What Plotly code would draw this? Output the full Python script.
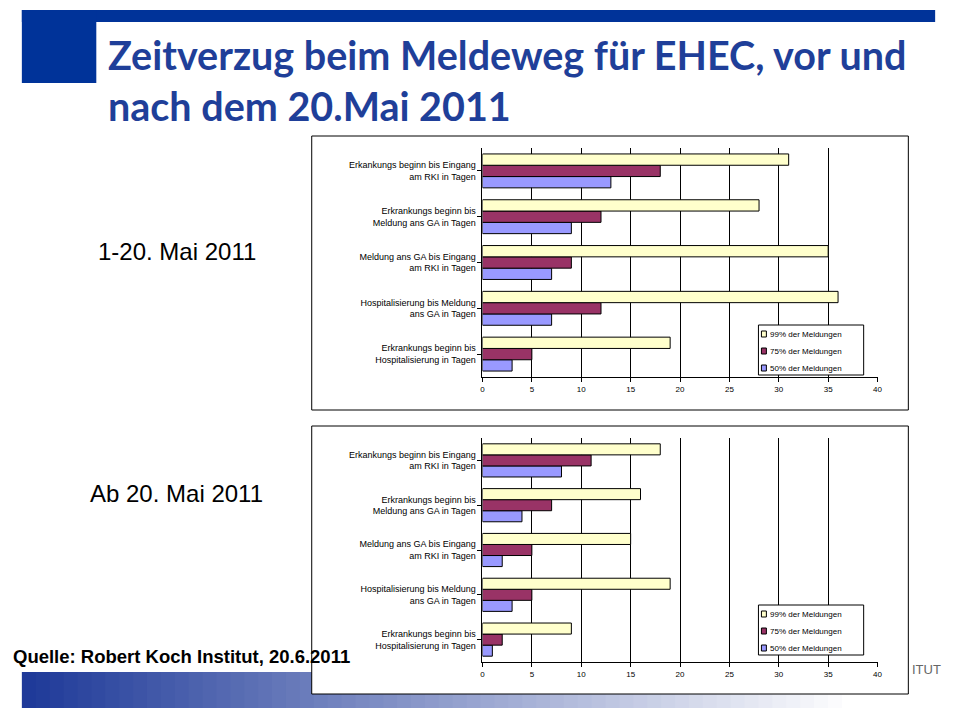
import plotly.graph_objects as go

categories = ["Erkankungs beginn bis Eingang<br>am RKI in Tagen",
              "Erkrankungs beginn bis<br>Meldung ans GA in Tagen",
              "Meldung ans GA bis Eingang<br>am RKI in Tagen",
              "Hospitalisierung bis Meldung<br>ans GA in Tagen",
              "Erkrankungs beginn bis<br>Hospitalisierung in Tagen"]
series_names = ["99% der Meldungen", "75% der Meldungen", "50% der Meldungen"]
series_colors = ["#FFFFCC", "#993366", "#9999FF"]
before_99 = [31, 28, 35, 36, 19]
before_75 = [18, 12, 9, 12, 5]
before_50 = [13, 9, 7, 7, 3]
after_99 = [18, 16, 15, 19, 9]
after_75 = [11, 7, 5, 5, 2]
after_50 = [8, 4, 2, 3, 1]
x_ticks = [0, 5, 10, 15, 20, 25, 30, 35, 40]

W, H = 960, 720
def px(x): return x / W
def py(y): return 1 - y / H

fig = go.Figure()
panels = [([before_99, before_75, before_50], "x", "y"),
          ([after_99, after_75, after_50], "x2", "y2")]
for vals, xa, ya in panels:
    for i in [2, 1, 0]:
        fig.add_trace(go.Bar(y=categories, x=vals[i], orientation="h", name=series_names[i],
                             marker=dict(color=series_colors[i], line=dict(color="black", width=1)),
                             xaxis=xa, yaxis=ya, showlegend=False))

shapes = []
n = 60
x0, x1 = 20, 860
for k in range(n):
    t = k / (n - 1)
    r = int(0x1F + (255 - 0x1F) * t); g = int(0x3A + (255 - 0x3A) * t); b = int(0x99 + (255 - 0x99) * t)
    shapes.append(dict(type="rect", xref="paper", yref="paper",
                       x0=px(x0 + (x1 - x0) * k / n), x1=px(x0 + (x1 - x0) * (k + 1) / n + 1),
                       y0=py(708), y1=py(672), line=dict(width=0), fillcolor=f"rgb({r},{g},{b})", layer="below"))
shapes += [
    dict(type="rect", xref="paper", yref="paper", x0=px(20), x1=px(940), y0=py(22), y1=py(10),
         fillcolor="#003399", line=dict(width=0), layer="below"),
    dict(type="rect", xref="paper", yref="paper", x0=px(20), x1=px(95), y0=py(83), y1=py(10),
         fillcolor="#003399", line=dict(width=0), layer="below"),
    dict(type="rect", xref="paper", yref="paper", x0=px(312), x1=px(913), y0=py(410), y1=py(136),
         fillcolor="white", line=dict(color="black", width=1), layer="below"),
    dict(type="rect", xref="paper", yref="paper", x0=px(312), x1=px(913), y0=py(694), y1=py(426),
         fillcolor="white", line=dict(color="black", width=1), layer="below"),
]
annotations = []
for top in [325, 605]:
    shapes.append(dict(type="rect", xref="paper", yref="paper", x0=px(762), x1=px(868), y0=py(top + 50), y1=py(top),
                       fillcolor="white", line=dict(color="black", width=1)))
    for i in range(3):
        yy = top + 9 + i * 17
        shapes.append(dict(type="rect", xref="paper", yref="paper", x0=px(765), x1=px(770),
                           y0=py(yy + 3), y1=py(yy - 3), fillcolor=series_colors[i], line=dict(color="black", width=1)))
        annotations.append(dict(xref="paper", yref="paper", x=px(772), y=py(yy), text=series_names[i],
                                showarrow=False, xanchor="left", yanchor="middle",
                                font=dict(family="Liberation Sans", size=8, color="black")))

annotations += [
    dict(xref="paper", yref="paper", x=px(105), y=py(55), text="<b>Zeitverzug beim Meldeweg für EHEC, vor und</b>",
         showarrow=False, xanchor="left", yanchor="middle", font=dict(family="Lato", size=39.5, color="#1F3F99")),
    dict(xref="paper", yref="paper", x=px(105), y=py(105), text="<b>nach dem 20.Mai 2011</b>",
         showarrow=False, xanchor="left", yanchor="middle", font=dict(family="Lato", size=39.5, color="#1F3F99")),
    dict(xref="paper", yref="paper", x=px(176), y=py(252), text="1-20. Mai 2011",
         showarrow=False, xanchor="center", yanchor="middle", font=dict(family="Liberation Sans", size=24, color="black")),
    dict(xref="paper", yref="paper", x=px(176), y=py(493), text="Ab 20. Mai 2011",
         showarrow=False, xanchor="center", yanchor="middle", font=dict(family="Liberation Sans", size=24, color="black")),
    dict(xref="paper", yref="paper", x=px(9), y=py(656), text="<b>Quelle: Robert Koch Institut, 20.6.2011</b>",
         showarrow=False, xanchor="left", yanchor="middle", font=dict(family="Liberation Sans", size=18.5, color="black")),
    dict(xref="paper", yref="paper", x=px(915), y=py(669), text="ITUT",
         showarrow=False, xanchor="left", yanchor="middle", font=dict(family="Liberation Sans", size=13, color="#666666")),
]

axis_x = dict(range=[0, 40], tickvals=x_ticks, showgrid=True, gridcolor="black", gridwidth=1,
              showline=True, linecolor="black", ticks="outside", ticklen=4, tickcolor="black",
              tickfont=dict(family="Liberation Sans", size=8, color="black"), zeroline=False, fixedrange=True)
axis_y = dict(categoryorder="array", categoryarray=categories[::-1], showline=True, linecolor="black",
              ticks="outside", ticklen=4, tickcolor="black",
              tickfont=dict(family="Liberation Sans", size=9, color="black"), fixedrange=True)

fig.update_layout(
    width=W, height=H, margin=dict(l=0, r=0, t=0, b=0), paper_bgcolor="white", plot_bgcolor="rgba(0,0,0,0)",
    barmode="group", bargap=0.26, bargroupgap=0, showlegend=False,
    xaxis=dict(axis_x, domain=[px(484), px(882)], anchor="y"),
    yaxis=dict(axis_y, domain=[py(377), py(148)], anchor="x"),
    xaxis2=dict(axis_x, domain=[px(484), px(882)], anchor="y2"),
    yaxis2=dict(axis_y, domain=[py(662), py(438)], anchor="x2"),
    shapes=shapes, annotations=annotations,
)
fig.write_html("out.html", config={"displayModeBar": False},
               post_script="document.body.style.margin='0';document.body.style.overflow='hidden';")
